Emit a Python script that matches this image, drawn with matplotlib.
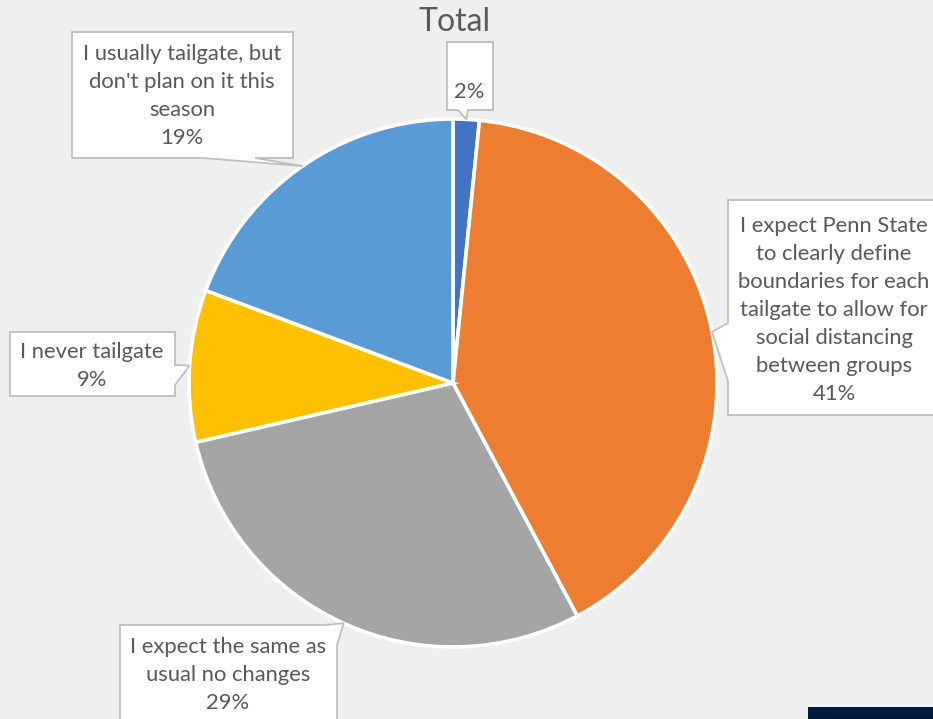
import matplotlib.pyplot as plt
from matplotlib.patches import Polygon, Rectangle
import numpy as np

plt.rcParams['font.family'] = ['Lato', 'DejaVu Sans']

W, H = 933, 719

# survey answers, clockwise from 12 o'clock
answers = [
    "",
    "I expect Penn State\nto clearly define\nboundaries for each\ntailgate to allow for\nsocial distancing\nbetween groups",
    "I expect the same as\nusual no changes",
    "I never tailgate",
    "I usually tailgate, but\ndon't plan on it this\nseason",
]
shares = [1.6, 40.6, 29.2, 9.3, 19.3]
colors = ['#4472C4', '#ED7D31', '#A5A5A5', '#FFC000', '#5B9BD5']

# callout boxes in pixel coords (x0, y0, x1, y1), pointer side, pointer base, text centre
boxes = [
    ((447, 42, 493, 110), 'bottom', (458, 468), (469, 92)),
    ((728, 200, 945, 415), 'left', (323, 381), (834, 310)),
    ((120, 625, 337, 740), 'corner', (325, 645), (228, 675)),
    ((10, 332, 175, 396), 'right', (365, 385), (92, 366)),
    ((72, 32, 293, 158), 'bottom', (203, 255), (182, 96)),
]

fig = plt.figure(figsize=(9.33, 7.19), dpi=100)
fig.patch.set_facecolor('#efefef')
ax = fig.add_axes([0, 0, 1, 1])
ax.set_facecolor('#efefef')

cx, cy, r = 453, H - 383, 264
wedges, _ = ax.pie(shares, colors=colors, startangle=90, counterclock=False,
                   center=(cx, cy), radius=r,
                   wedgeprops=dict(edgecolor='white', linewidth=2.6))
ax.set_xlim(0, W)
ax.set_ylim(0, H)
ax.set_aspect('equal')
ax.axis('off')


def callout(box, side, base, tip):
    x0, y0, x1, y1 = box
    b1, b2 = base
    if side == 'bottom':
        pts = [(x0, y0), (x1, y0), (x1, y1), (b2, y1), tip, (b1, y1), (x0, y1)]
    elif side == 'left':
        pts = [(x0, y0), (x1, y0), (x1, y1), (x0, y1), (x0, b2), tip, (x0, b1)]
    elif side == 'right':
        pts = [(x0, y0), (x1, y0), (x1, b1), tip, (x1, b2), (x1, y1), (x0, y1)]
    else:  # top right corner
        pts = [(x0, y0), (b1, y0), tip, (x1, b2), (x1, y1), (x0, y1)]
    pts = [(px, H - py) for px, py in pts]
    ax.add_patch(Polygon(pts, closed=True, facecolor='white',
                         edgecolor='#bfbfbf', linewidth=1.3, zorder=3))


for w, ans, val, (box, side, base, tc) in zip(wedges, answers, shares, boxes):
    mid = np.deg2rad((w.theta1 + w.theta2) / 2)
    tip = (cx + r * np.cos(mid), H - (cy + r * np.sin(mid)))
    callout(box, side, base, tip)
    label = f"{round(val)}%" if not ans else f"{ans}\n{round(val)}%"
    ax.text(tc[0], H - tc[1], label, ha='center', va='center', fontsize=15.8,
            color='#595959', linespacing=1.5, zorder=4)

ax.text(455, H - 22, "Total", ha='center', va='center', fontsize=23,
        color='#595959')

ax.add_patch(Rectangle((808, 0), W - 808, 12, facecolor='#031b3b',
                       edgecolor='none', zorder=5))

fig.savefig('out.png', dpi=100, facecolor=fig.get_facecolor())
